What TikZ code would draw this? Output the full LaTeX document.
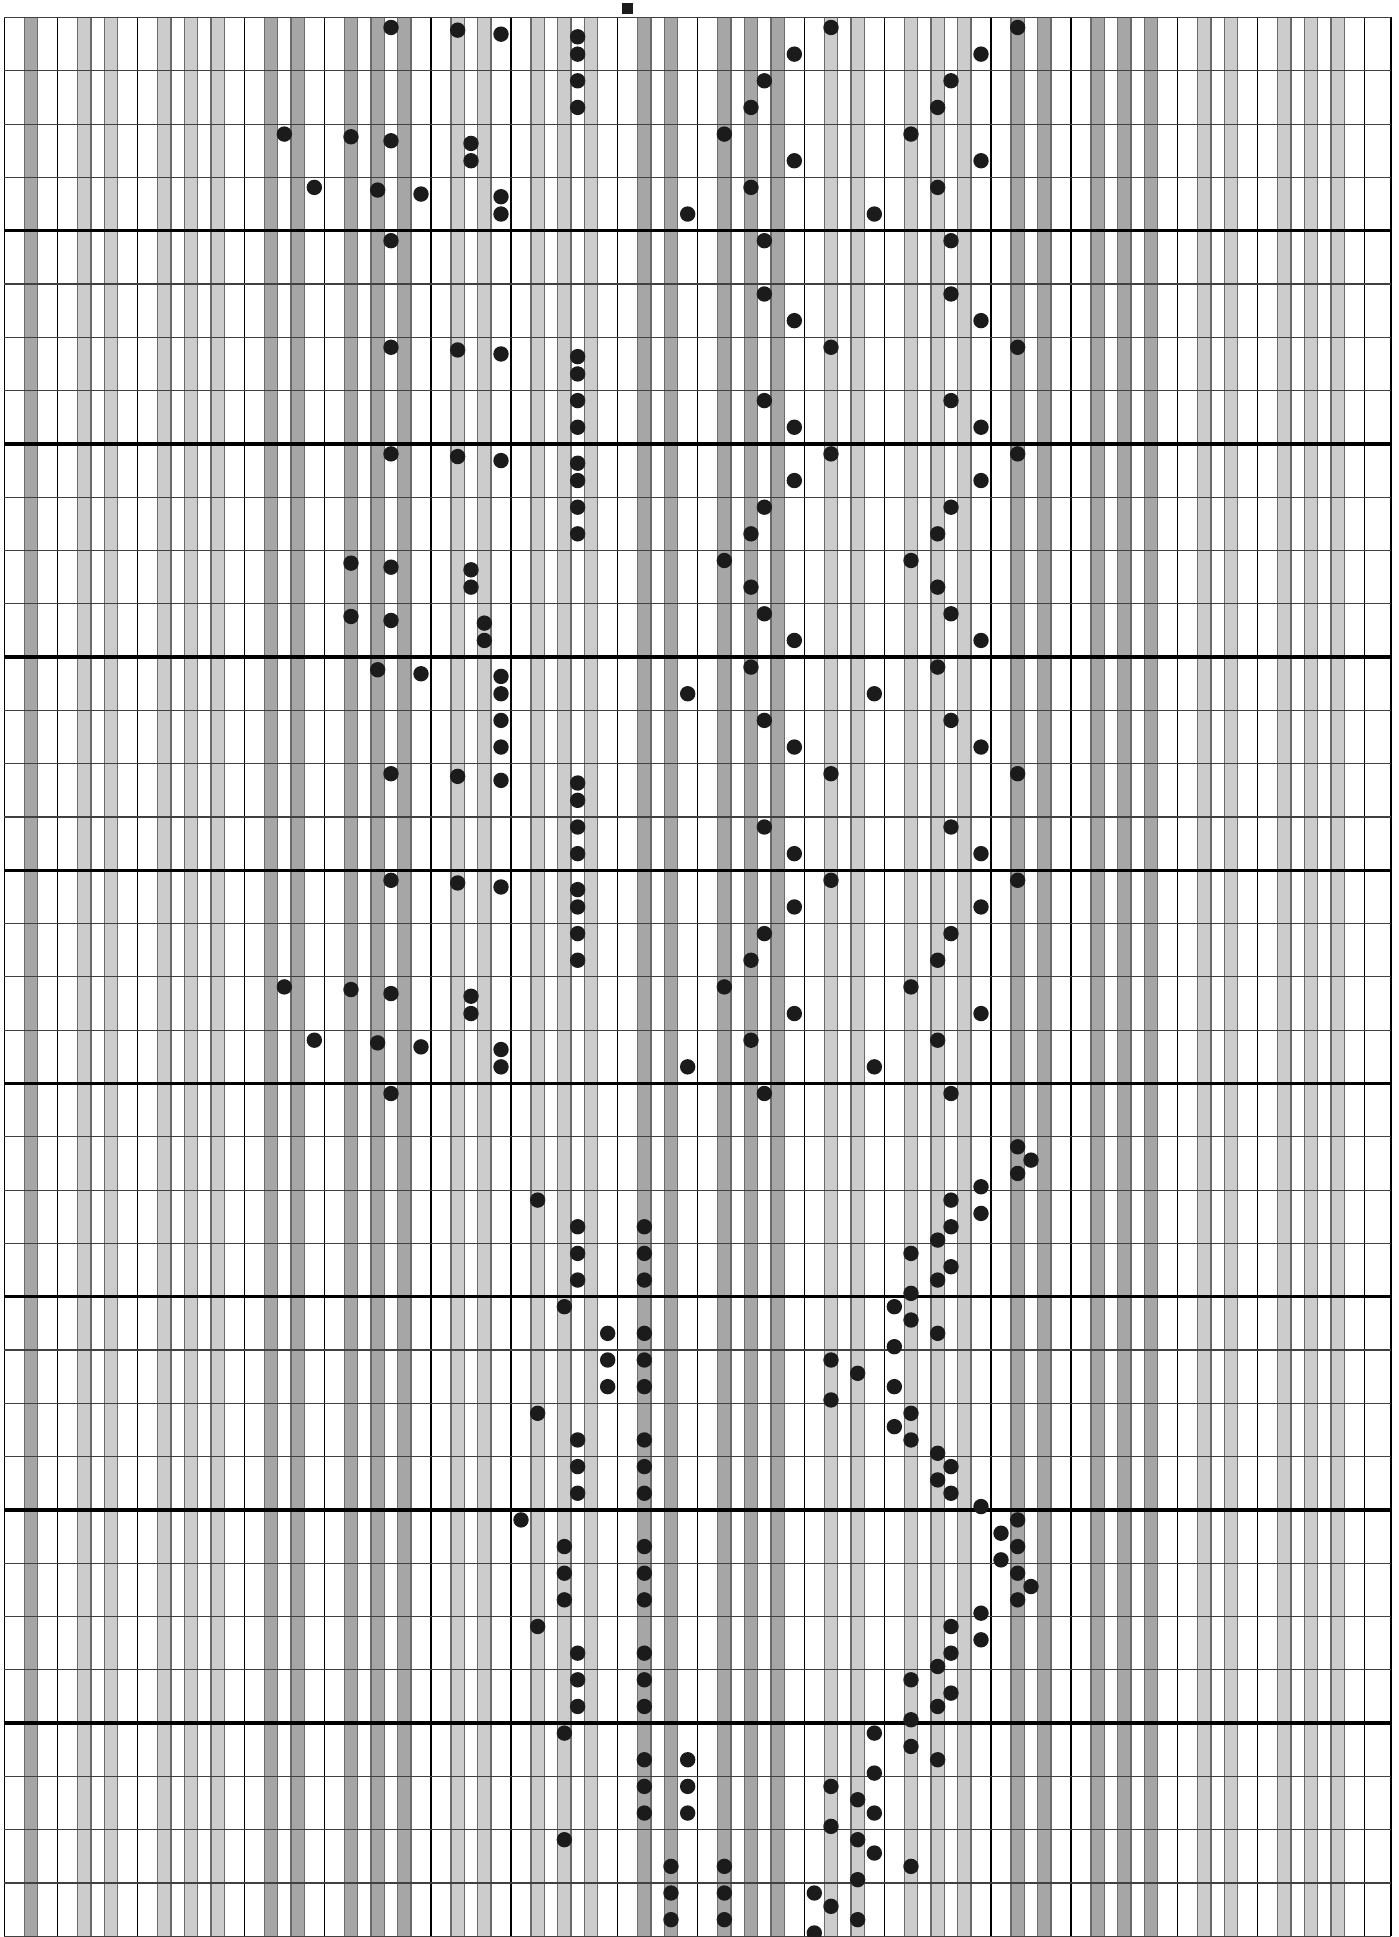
\documentclass[tikz,border=0pt]{standalone}
\usepackage{tikz}
\definecolor{darkkey}{HTML}{A6A6A6}
\definecolor{lightkey}{HTML}{CCCCCC}
\definecolor{edgegray}{HTML}{6B6B6B}
\definecolor{rowline}{HTML}{404040}
\definecolor{dotc}{HTML}{1B1B1B}
\tikzset{
  stripeedge/.style={draw=edgegray, line width=1.1pt},
  whiteline/.style={draw=black, line width=1.1pt},
  beatline/.style={draw=rowline, line width=1.1pt},
  barline/.style={draw=black, line width=3.4pt},
  notedot/.style={fill=dotc},
}
\begin{document}
\begin{tikzpicture}[x=1pt,y=-1pt]
\def\xo{4.33}\def\uw{6.6667}\def\yo{17.5}\def\rh{53.3}
\def\gb{1936.3}
\useasboundingbox (0,0) rectangle (1398,1937);
\fill[white] (0,0) rectangle (1398,1937);
% --- black-key stripes ---
\newcommand{\keystripe}[2]{%
  \pgfmathsetmacro{\ka}{\xo+\uw*(#1)}%
  \pgfmathsetmacro{\kb}{\xo+\uw*(#1+2)}%
  \fill[#2] (\ka,\yo) rectangle (\kb,\gb);
  \draw[stripeedge] (\ka,\yo) -- (\ka,\gb);
  \draw[stripeedge] (\kb,\yo) -- (\kb,\gb);
}
\keystripe{3}{darkkey}
\foreach \n in {2,4,6}{\foreach \o in {3,7,15,19,23}{\keystripe{8+28*(\n-1)+\o}{darkkey}}}
\foreach \n in {1,3,5,7}{\foreach \o in {3,7,15,19,23}{\keystripe{8+28*(\n-1)+\o}{lightkey}}}
% --- white-white boundaries ---
\foreach \u in {0,8,36,64,92,120,148,176,204,208,20,48,76,104,132,160,188}{
  \pgfmathsetmacro{\kx}{\xo+\uw*\u}
  \draw[whiteline] (\kx,\yo) -- (\kx,\gb);
}
% --- rows ---
\foreach \r in {0,...,36}{
  \pgfmathsetmacro{\ry}{\yo+\rh*\r}
  \draw[beatline] (\xo,\ry) -- ({\xo+\uw*208},\ry);
}
\foreach \r in {4,8,...,32}{
  \pgfmathsetmacro{\ry}{\yo+\rh*\r}
  \draw[barline] (\xo,\ry) -- ({\xo+\uw*208},\ry);
}
% --- middle C marker ---
\fill[dotc] (622,2.7) rectangle (633,14);
% --- notes ---
\foreach \u/\t in {
58/0.1875, 68/0.2375, 74.5/0.3125, 86/0.3625, 86/0.6875, 118.5/0.6875, 124/0.1875, 146.5/0.6875, 152/0.1875,
86/1.1875, 86/1.6875, 114/1.1875, 112/1.6875, 142/1.1875, 140/1.6875,
42/2.1875, 52/2.2375, 58/2.3125, 70/2.3625, 70/2.6875, 108/2.1875, 118.5/2.6875, 136/2.1875, 146.5/2.6875,
46.5/3.1875, 56/3.2375, 62.5/3.3125, 74.5/3.3625, 74.5/3.6875, 102.5/3.6875, 112/3.1875, 130.5/3.6875, 140/3.1875,
58/4.1875, 114/4.1875, 142/4.1875,
114/5.1875, 118.5/5.6875, 142/5.1875, 146.5/5.6875,
58/6.1875, 68/6.2375, 74.5/6.3125, 86/6.3625, 86/6.6875, 124/6.1875, 152/6.1875,
86/7.1875, 86/7.6875, 114/7.1875, 118.5/7.6875, 142/7.1875, 146.5/7.6875,
58/8.1875, 68/8.2375, 74.5/8.3125, 86/8.3625, 86/8.6875, 118.5/8.6875, 124/8.1875, 146.5/8.6875, 152/8.1875,
86/9.1875, 86/9.6875, 114/9.1875, 112/9.6875, 142/9.1875, 140/9.6875,
52/10.2375, 58/10.3125, 70/10.3625, 70/10.6875, 108/10.1875, 112/10.6875, 136/10.1875, 140/10.6875,
52/11.2375, 58/11.3125, 72/11.3625, 72/11.6875, 114/11.1875, 118.5/11.6875, 142/11.1875, 146.5/11.6875,
56/12.2375, 62.5/12.3125, 74.5/12.3625, 74.5/12.6875, 102.5/12.6875, 112/12.1875, 130.5/12.6875, 140/12.1875,
74.5/13.1875, 74.5/13.6875, 114/13.1875, 118.5/13.6875, 142/13.1875, 146.5/13.6875,
58/14.1875, 68/14.2375, 74.5/14.3125, 86/14.3625, 86/14.6875, 124/14.1875, 152/14.1875,
86/15.1875, 86/15.6875, 114/15.1875, 118.5/15.6875, 142/15.1875, 146.5/15.6875,
58/16.1875, 68/16.2375, 74.5/16.3125, 86/16.3625, 86/16.6875, 118.5/16.6875, 124/16.1875, 146.5/16.6875, 152/16.1875,
86/17.1875, 86/17.6875, 114/17.1875, 112/17.6875, 142/17.1875, 140/17.6875,
42/18.1875, 52/18.2375, 58/18.3125, 70/18.3625, 70/18.6875, 108/18.1875, 118.5/18.6875, 136/18.1875, 146.5/18.6875,
46.5/19.1875, 56/19.2375, 62.5/19.3125, 74.5/19.3625, 74.5/19.6875, 102.5/19.6875, 112/19.1875, 130.5/19.6875, 140/19.1875,
58/20.1875, 114/20.1875, 142/20.1875,
152/21.1875, 154/21.4375, 152/21.6875, 146.5/21.9375,
80/22.1875, 86/22.6875, 96/22.6875, 142/22.1875, 146.5/22.4375, 142/22.6875, 140/22.9375,
86/23.1875, 86/23.6875, 96/23.1875, 96/23.6875, 136/23.1875, 142/23.4375, 140/23.6875, 136/23.9375,
84/24.1875, 90.5/24.6875, 96/24.6875, 133.5/24.1875, 136/24.4375, 140/24.6875,
90.5/25.1875, 90.5/25.6875, 96/25.1875, 96/25.6875, 124/25.1875, 128/25.4375, 133.5/24.9375, 133.5/25.6875, 124/25.9375,
80/26.1875, 86/26.6875, 96/26.6875, 136/26.1875, 133.5/26.4375, 136/26.6875, 140/26.9375,
86/27.1875, 86/27.6875, 96/27.1875, 96/27.6875, 142/27.1875, 140/27.4375, 142/27.6875, 146.5/27.9375,
77.5/28.1875, 84/28.6875, 96/28.6875, 152/28.1875, 149.5/28.4375, 152/28.6875, 149.5/28.9375,
84/29.1875, 84/29.6875, 96/29.1875, 96/29.6875, 152/29.1875, 154/29.4375, 152/29.6875, 146.5/29.9375,
80/30.1875, 86/30.6875, 96/30.6875, 142/30.1875, 146.5/30.4375, 142/30.6875, 140/30.9375,
86/31.1875, 86/31.6875, 96/31.1875, 96/31.6875, 136/31.1875, 142/31.4375, 140/31.6875, 136/31.9375,
84/32.1875, 96/32.6875, 102.5/32.6875, 130.5/32.1875, 136/32.4375, 140/32.6875, 130.5/32.9375,
96/33.1875, 96/33.6875, 102.5/33.1875, 102.5/33.6875, 124/33.1875, 128/33.4375, 130.5/33.6875, 124/33.9375,
84/34.1875, 100/34.6875, 108/34.6875, 128/34.1875, 130.5/34.4375, 136/34.6875, 128/34.9375,
100/35.1875, 100/35.6875, 108/35.1875, 108/35.6875, 121.5/35.1875, 124/35.4375, 128/35.6875, 121.5/35.9375}{
  \fill[notedot] ({\xo+\uw*\u},{\yo+\rh*\t}) circle (7.7);
}
\end{tikzpicture}
\end{document}
